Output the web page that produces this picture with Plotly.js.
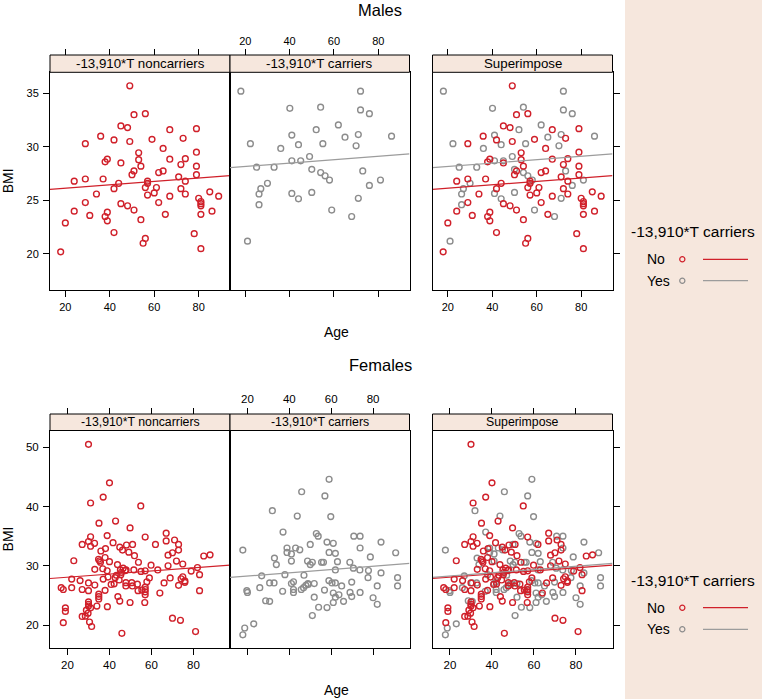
<!DOCTYPE html>
<html><head><meta charset="utf-8">
<script src="https://cdn.plot.ly/plotly-3.0.1.min.js"></script>
<style>html,body{margin:0;padding:0;background:#fff}#chart{width:762px;height:699px}</style>
</head><body><div id="chart"></div>
<script>
// ---------------- data ----------------
const groupLabels = ['No', 'Yes'];
const panelLabels = ['-13,910*T noncarriers', '-13,910*T carriers', 'Superimpose'];
const legendTitle = '-13,910*T carriers';
const rowTitles = ['Males', 'Females'];
const xTitle = 'Age';
const yTitle = 'BMI';
const xTicks = [20, 40, 60, 80];
const maleYTicks = [20, 25, 30, 35];
const femaleYTicks = [20, 30, 40, 50];

const maleNoAge = [17.9,20,24,24,29,29,29,31,34,35.9, 37,37.9,38.9,37.9,38.9,38.9,41.9,41.9,41.9,44, 45,45,45,48,48,49,49,50,50.9,50.9, 50.9,53,53,54,54,55,56,56,56,57, 57,57,59,60,61,62,62,64,64,65, 67,67,67,71,72,72,73,74,74,74, 78,79,79,79,79,80,81,81,81,81, 81,85,86,89];
const maleNoBMI = [20.2,22.9,24.0,26.8,30.3,27.0,24.8,23.6,25.6,31.0, 27.0,28.6,28.85,23.5,23.9,23.1,30.65,26.1,22.0,26.6, 31.95,28.5,24.7,31.8,24.5,35.7,30.5,27.4,33.0,27.75, 24.1,29.45,28.8,28.2,23.2,21.0,21.45,33.1,26.2,26.8, 26.6,25.5,30.7,25.7,26.2,27.6,24.8,27.75,29.85,23.7, 31.6,28.85,25.4,27.2,28.35,26.1,30.8,28.9,26.8,25.6, 21.9,31.7,29.5,28.2,27.4,25.2,24.9,24.7,24.5,23.7, 20.5,25.8,24.0,25.4];
const maleYesAge = [18,22.3,21,25.1,33,36,30,27,26.2,26.2, 40.1,41,44,41,45,41,44,49,50,50, 52,54,55,54,56,58,59,62,65,71, 70,72,72,76,73,76,71,68,81,86];
const maleYesBMI = [35.2,30.3,21.2,28.1,28.1,29.85,26.6,26.1,25.6,24.6, 33.6,31.1,30.2,28.7,28.7,25.65,25.15,29.1,27.9,25.75, 31.6,33.7,30.3,27.6,27.3,26.9,24.1,32.05,30.9,31.15, 30.1,35.2,33.45,33.1,27.75,26.4,25.2,23.5,26.9,31.0];

const femaleNoAge = [17,18,18,19,19,22,22,23,26,27, 27,27,28.5,29,29.8,30,30,30,31,30.5, 31.5,30,31,30,31,31,32.9,30,30,33, 33,34,34.9,34.9,34.9,35,34.8,35.7,35.3,35.9, 37,37,36.8,37.9,37.9,38.1,38.9,38.9,39,39.3, 40,40,40.8,42.2,41.7,42.7,42.9,43.8,44,44.9, 44.9,45.2,45.7,45.4,44.6,46.2,45.9,47.9,48.1,47.8, 47.8,49.2,49.8,49.8,50.6,50.9,51,51.6,51.9,53.3, 53.6,53.8,54.9,55,55.4,57,57,57,57,57, 57,56.8,57.8,59,59.8,61.9,63,64,66,67, 67,67.9,67.9,68.9,70,70,71,71.9,72.9,72.9, 72.9,73.8,74.1,74.9,74.9,75.9,75.9,78.9,81,81.9, 82.9,82.9,84.9,87.9,43.3,46.5,47.5];
const femaleNoBMI = [26.3,26.0,20.4,22.9,22.3,26.3,27.75,30.85,27.5,33.6, 26.0,21.45,21.5,22.5,22.0,23.9,23.5,23.2,22.9,20.5, 19.75,50.5,40.6,34.1,34.9,33.3,33.8,27.1,25.8,29.4, 26.75,23.2,25.2,24.8,24.4,37.2,31.1,30.6,30.85,32.5, 41.6,27.75,29.5,31.4,25.85,32.9,35.1,29.15,23.1,28.1, 30.7,44.0,26.85,26.95,33.9,28.0,37.55,30.2,24.8,33.15, 24.05,29.3,28.9,28.5,27.6,32.65,18.6,29.3,33.5,27.15, 26.6,32.3,36.4,23.8,27.15,26.6,33.6,29.3,31.7,26.9, 25.8,30.6,40.1,29.05,25.9,34.85,29.15,26.4,26.0,25.6, 25.1,23.8,27.3,27.95,30.1,33.6,29.3,25.4,27.1,35.5, 34.2,31.8,30.0,27.95,32.2,21.15,34.35,30.8,33.6,32.65, 26.7,20.8,27.8,30.3,28.15,27.45,27.2,29.1,18.9,29.7, 28.5,25.8,31.65,31.85,28.4,29.6,29.2];
const femaleYesAge = [17.8,19.7,20,17.8,18.7,23,25.9,26.8,28.7,30.6, 30.6,32.7,31.9,32.9,33.8,37,36.8,37.9,38.9,38.9, 41,41,42,42,42,41,43,45,43.8,45.9, 45.7,46.8,47.9,47,48.9,50,48.7,50,51,51.9, 51.9,51,52.9,53.8,54,55.4,56.3,56.8,58,57, 58,61,59,62,59,59.8,58.9,62,63,61, 62,62,63.7,65,61,65.9,68.9,69.8,69,69.8, 70.6,70.8,73.8,73.8,73.7,73.8,77.8,77.6,78.7,80, 82,82,83.8,83.8,90.8,91.7,91.7,49,60.4];
const femaleYesBMI = [32.65,25.8,25.5,18.35,19.5,20.2,26.3,28.3,24.1,24.0, 27.1,27.1,39.3,31.3,30.2,35.7,25.7,28.5,33.0,32.25, 30.8,27.0,27.3,26.0,25.5,32.0,33.0,32.7,38.4,42.5, 26.0,26.3,26.7,28.4,27.0,33.6,30.8,30.2,30.6,27.0, 24.7,21.6,35.45,35.0,23.0,30.6,30.6,25.9,22.95,41.8, 34.0,33.8,32.25,32.1,44.6,38.3,27.5,29.3,30.7,25.4, 24.7,27.1,25.1,26.6,23.8,24.0,30.6,27.25,25.5,24.8, 29.6,35.0,35.0,33.0,29.3,25.5,29.2,28.0,31.5,24.6, 23.5,26.6,34.0,28.8,32.2,28.0,26.6,26.85,27.1];

// linear fits: [intercept, slope]
const maleNoFit = [25.835, 0.01568];
const maleYesFit = [27.85, 0.0158];
const femaleNoFit = [27.55, 0.02625];
const femaleYesFit = [27.71, 0.02754];

// ---------------- layout helpers ----------------
const W = 762, H = 699;
const px = v => v / W, py = v => 1 - v / H;
const RED = '#d0202a', GREY = '#8c8c8c', GREYLINE = '#9c9c9c', BEIGE = '#f6e7dd';
const FONT = 'Liberation Sans, Arial, Helvetica, sans-serif';

const cols = [[50, 230], [230, 409.5], [432.5, 612.5]];
const rows = [
  { no: [maleNoAge, maleNoBMI], yes: [maleYesAge, maleYesBMI], fitNo: maleNoFit, fitYes: maleYesFit,
    xr: [13.1, 94.1], yr: [16.61, 36.96], yt: maleYTicks, stripTop: 55, top: 72.3, bottom: 290.3,
    stripFont: 13.3, tickFont: 11, xtitle: 331.7, legend: [231.7, 259.3, 280.7] },
  { no: [femaleNoAge, femaleNoBMI], yes: [femaleYesAge, femaleYesBMI], fitNo: femaleNoFit, fitYes: femaleYesFit,
    xr: [11.67, 97.4], yr: [16.07, 52.84], yt: femaleYTicks, stripTop: 414, top: 430.5, bottom: 648.3,
    stripFont: 12.3, tickFont: 11.5, xtitle: 690, legend: [580, 607.7, 629.3] }
];

const traces = [];
const layout = {
  width: W, height: H, margin: { l: 0, r: 0, t: 0, b: 0 },
  paper_bgcolor: '#fff', plot_bgcolor: 'rgba(0,0,0,0)',
  font: { family: FONT, color: '#000' }, showlegend: false,
  shapes: [{ type: 'rect', xref: 'paper', yref: 'paper', x0: px(625), x1: 1, y0: 0, y1: 1,
             fillcolor: BEIGE, line: { width: 0 }, layer: 'below' }],
  annotations: []
};

function pts(data, color, xa, ya) {
  return { type: 'scatter', mode: 'markers', x: data[0], y: data[1], xaxis: xa, yaxis: ya,
           marker: { symbol: 'circle-open', size: 5.8, color: color, line: { width: 1.4, color: color } },
           hoverinfo: 'skip', cliponaxis: true };
}
function fitLine(fit, xr, color, xa, ya) {
  return { type: 'scatter', mode: 'lines', x: xr.slice(), y: xr.map(a => fit[0] + fit[1] * a),
           xaxis: xa, yaxis: ya, line: { color: color, width: 1.2 }, hoverinfo: 'skip' };
}
function ann(text, x, y, size, extra) {
  layout.annotations.push(Object.assign({ text: text, x: x, y: y, xref: 'paper', yref: 'paper',
    showarrow: false, font: { size: size, family: FONT, color: '#000' }, xanchor: 'center', yanchor: 'middle' }, extra || {}));
}

rows.forEach((r, ri) => {
  cols.forEach((c, ci) => {
    const k = ri * 3 + ci + 1;
    const xa = 'x' + k, ya = 'y' + k;
    const xk = 'xaxis' + (k === 1 ? '' : k), yk = 'yaxis' + (k === 1 ? '' : k);
    const tk = k + 6;
    layout[xk] = {
      domain: [px(c[0]), px(c[1])], anchor: ya, range: r.xr, tickvals: xTicks,
      ticks: 'outside', ticklen: 6, tickwidth: 1, tickcolor: '#000',
      showticklabels: ci !== 1, tickfont: { size: r.tickFont, family: FONT },
      showgrid: false, zeroline: false, showline: true, mirror: true, linecolor: '#000', linewidth: 1,
      fixedrange: true
    };
    layout['xaxis' + tk] = {
      overlaying: xa, anchor: 'free', position: py(r.stripTop), side: 'top', range: r.xr, tickvals: xTicks,
      ticks: 'outside', ticklen: 6, tickwidth: 1, tickcolor: '#000',
      showticklabels: ci === 1, tickfont: { size: r.tickFont, family: FONT },
      showgrid: false, zeroline: false, showline: false, fixedrange: true
    };
    layout[yk] = {
      domain: [py(r.bottom), py(r.top)], anchor: xa, range: r.yr, tickvals: r.yt,
      ticks: ci === 1 ? '' : 'outside', ticklen: 6, tickwidth: 1, tickcolor: '#000',
      side: ci === 2 ? 'right' : 'left', showticklabels: ci === 0,
      tickfont: { size: r.tickFont, family: FONT }, ticklabelstandoff: 2,
      showgrid: false, zeroline: false, showline: true, mirror: true, linecolor: '#000', linewidth: 1,
      fixedrange: true
    };
    // carrier for the top tick axis
    traces.push({ type: 'scatter', mode: 'markers', x: [], y: [], xaxis: 'x' + tk, yaxis: ya, hoverinfo: 'skip' });
    if (ci === 0) {
      traces.push(pts(r.no, RED, xa, ya));
      traces.push(fitLine(r.fitNo, r.xr, RED, xa, ya));
    } else if (ci === 1) {
      traces.push(pts(r.yes, GREY, xa, ya));
      traces.push(fitLine(r.fitYes, r.xr, GREYLINE, xa, ya));
    } else {
      traces.push(pts(r.yes, GREY, xa, ya));
      traces.push(pts(r.no, RED, xa, ya));
      traces.push(fitLine(r.fitYes, r.xr, GREYLINE, xa, ya));
      traces.push(fitLine(r.fitNo, r.xr, RED, xa, ya));
    }
    // strip
    layout.shapes.push({ type: 'rect', xref: 'paper', yref: 'paper', x0: px(c[0]), x1: px(c[1]),
      y0: py(r.top), y1: py(r.stripTop), fillcolor: BEIGE, line: { color: '#000', width: 1 } });
    ann(panelLabels[ci], px((c[0] + c[1]) / 2), py((r.stripTop + r.top) / 2), r.stripFont);
  });
  ann(xTitle, px(336), py(r.xtitle), 14);
  ann(yTitle, px(8), py((r.top + r.bottom) / 2), 14, { textangle: -90 });
  // legend
  ann(legendTitle, px(629), py(r.legend[0]), 15.5, { xanchor: 'left' });
  ann(groupLabels[0], px(645), py(r.legend[1]), 14, { xanchor: 'left' });
  ann(groupLabels[1], px(645), py(r.legend[2]), 14, { xanchor: 'left' });
});
ann(rowTitles[0], px(380), 1, 16.5, { yanchor: 'top', borderpad: 0 });
ann(rowTitles[1], px(380), py(365), 16.5);

// legend key axis (pixel space)
layout.xaxis13 = { domain: [0, 1], range: [0, W], anchor: 'y13', visible: false, fixedrange: true };
layout.yaxis13 = { domain: [0, 1], range: [H, 0], anchor: 'x13', visible: false, fixedrange: true };
rows.forEach(r => {
  [[RED, RED, r.legend[1]], [GREY, GREYLINE, r.legend[2]]].forEach(([mc, lc, yy]) => {
    traces.push({ type: 'scatter', mode: 'markers', x: [682.3], y: [yy], xaxis: 'x13', yaxis: 'y13',
      marker: { symbol: 'circle-open', size: 5.2, color: mc, line: { width: 1.2, color: mc } }, hoverinfo: 'skip' });
    traces.push({ type: 'scatter', mode: 'lines', x: [703, 748], y: [yy, yy], xaxis: 'x13', yaxis: 'y13',
      line: { color: lc, width: 1.2 }, hoverinfo: 'skip' });
  });
});

Plotly.newPlot('chart', traces, layout, { staticPlot: true, displayModeBar: false });
</script>
</body></html>
